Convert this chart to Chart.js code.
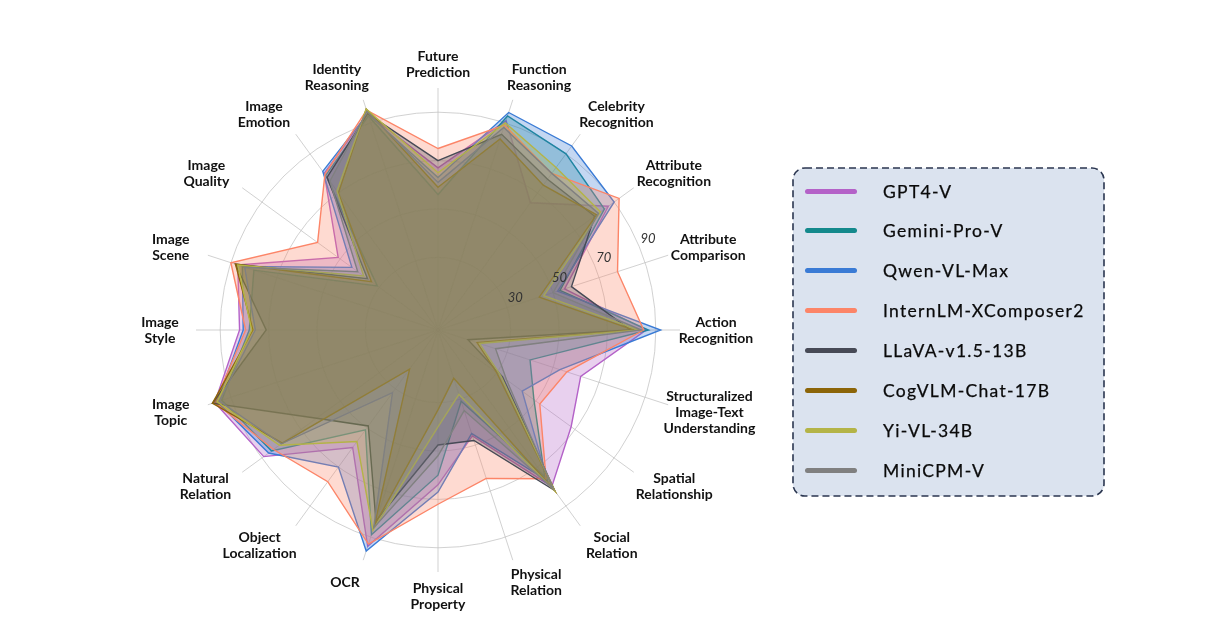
<!DOCTYPE html>
<html>
<head>
<meta charset="utf-8">
<script src="https://cdn.jsdelivr.net/npm/chart.js@4.4.1/dist/chart.umd.min.js"></script>
<style>
html,body{margin:0;padding:0;background:#fff;}
#wrap{position:relative;width:1222px;height:630px;overflow:hidden;}
#c{position:absolute;left:0;top:0;}
#legend{position:absolute;left:792px;top:167px;width:313px;height:330px;font-family:'Lato',sans-serif;}
#legend svg{position:absolute;left:0;top:0;}
.item{position:absolute;left:13px;height:20px;display:flex;align-items:center;}
.sw{width:52px;height:5px;border-radius:3px;}
.lab{margin-left:26px;font-size:17.5px;color:#0a0a0a;letter-spacing:1.3px;white-space:nowrap;-webkit-text-stroke:0.25px #0a0a0a;}
</style>
</head>
<body>
<div id="wrap">
<canvas id="c" width="1222" height="630"></canvas>
<div id="legend">
<svg width="313" height="330"><rect x="1" y="1" width="311" height="328" rx="12" ry="12" fill="#dbe3ef" stroke="#2b3650" stroke-width="1.6" stroke-dasharray="7 4"/></svg>
</div>
</div>
<script>
// ---- data ----
const categories = ['Future Prediction','Function Reasoning','Celebrity Recognition','Attribute Recognition',
  'Attribute Comparison','Action Recognition','Structuralized Image-Text Understanding','Spatial Relationship',
  'Social Relation','Physical Relation','Physical Property','OCR','Object Localization','Natural Relation',
  'Image Topic','Image Style','Image Scene','Image Quality','Image Emotion','Identity Reasoning'];
const labelLines = [['Future','Prediction'],['Function','Reasoning'],['Celebrity','Recognition'],['Attribute','Recognition'],
  ['Attribute','Comparison'],['Action','Recognition'],['Structuralized','Image-Text','Understanding'],['Spatial','Relationship'],
  ['Social','Relation'],['Physical','Relation'],['Physical','Property'],['OCR'],['Object','Localization'],['Natural','Relation'],
  ['Image','Topic'],['Image','Style'],['Image','Scene'],['Image','Quality'],['Image','Emotion'],['Identity','Reasoning']];
const seriesNames = ['GPT4-V','Gemini-Pro-V','Qwen-VL-Max','InternLM-XComposer2','LLaVA-v1.5-13B','CogVLM-Chat-17B','Yi-VL-34B','MiniCPM-V'];
const gpt4v     = [67, 91, 65, 87, 55, 86, 62, 68, 80, 46, 64, 94, 60, 89, 97, 82, 87, 51, 80, 94];
const geminiPro = [56, 93, 90, 85, 53, 87, 40, 49, 75, 31, 60, 89, 51, 85, 94, 78, 80, 31, 79, 93];
const qwenVLMax = [63, 94.5, 94, 90, 52, 92, 53, 43, 77, 45, 67, 96, 70, 86.5, 96, 80.5, 85, 44, 81, 94];
const internLM  = [75, 89, 80, 92.5, 78, 85, 56, 52, 76, 64.5, 72, 93, 77.5, 84, 97, 79.5, 90, 61.5, 79.5, 95.5];
const llava     = [70, 85, 77, 80, 58, 79.5, 13, 33, 82, 48, 47.5, 83, 49, 62, 98, 71, 88, 36, 78, 94];
const cogVLM    = [59, 83, 74, 81, 44, 81, 17, 30, 82, 21, 33, 85, 20, 79.5, 98, 76.5, 88, 34, 70, 96];
const yiVL      = [65, 90, 83, 83, 46, 83, 18, 32, 82, 28, 40, 87, 57, 81, 96, 77, 87, 38, 71, 96];
const miniCPM   = [61, 88, 80, 82, 50, 84, 25, 35, 81, 35, 52, 86, 32, 80, 95, 75.5, 84, 41, 76, 95];
const seriesData = [gpt4v, geminiPro, qwenVLMax, internLM, llava, cogVLM, yiVL, miniCPM];
const seriesColors = ['#b462c8','#14898c','#3a7bd5','#fc8568','#474a56','#8c6508','#b4b447','#808080'];
const tickValues = [30, 50, 70, 90];
const axisMin = 0, axisMax = 100;

function rgba(hex, a){
  const n = parseInt(hex.slice(1),16);
  return `rgba(${(n>>16)&255},${(n>>8)&255},${n&255},${a})`;
}

const LABEL_FONT = 'bold 14px Lato, sans-serif';
const LH = 16;

const labelPlugin = {
  id: 'customLabels',
  afterDraw(chart){
    const s = chart.scales.r;
    const ctx = chart.ctx;
    ctx.save();
    ctx.font = LABEL_FONT;
    ctx.fillStyle = '#111';
    ctx.textAlign = 'center';
    ctx.textBaseline = 'middle';
    const R = s.getDistanceFromCenterForValue(s.max);
    const Rx = R + 36, Ry = R + 24;
    labelLines.forEach((lines, i) => {
      const w = Math.max(...lines.map(t => ctx.measureText(t).width));
      const a = s.getIndexAngle(i);
      const sn = Math.sin(a), cs = Math.cos(a);
      const sgn = Math.abs(sn) < 1e-6 ? 0 : Math.sign(sn);
      const x = s.xCenter + sn * Rx + sgn * 0.5 * (w / 2) * Math.abs(cs);
      const y = s.yCenter - cs * Ry;
      lines.forEach((t, k) => {
        ctx.fillText(t, x, y + (k - (lines.length - 1) / 2) * LH);
      });
    });
    ctx.font = 'italic 13px Lato, sans-serif';
    ctx.fillStyle = '#333';
    const th = 66 * Math.PI / 180;
    tickValues.forEach(v => {
      const d = s.getDistanceFromCenterForValue(v) + 12;
      ctx.fillText(String(v), s.xCenter + d * Math.sin(th), s.yCenter - d * Math.cos(th) + 2);
    });
    ctx.restore();
  }
};

const chart = new Chart(document.getElementById('c'), {
  type: 'radar',
  data: {
    labels: categories,
    datasets: seriesNames.map((name, i) => ({
      label: name,
      data: seriesData[i],
      borderColor: seriesColors[i],
      backgroundColor: rgba(seriesColors[i], 0.3),
      borderWidth: 1.4,
      pointRadius: 0,
      pointHoverRadius: 0,
      fill: true,
      tension: 0,
      order: seriesNames.length - i
    }))
  },
  options: {
    responsive: false,
    animation: false,
    layout: { padding: { left: 196, top: 88, right: 542, bottom: 58 } },
    plugins: { legend: { display: false }, tooltip: { enabled: false } },
    scales: {
      r: {
        min: axisMin, max: axisMax, startAngle: 0, z: 1,
        afterBuildTicks: sc => { sc.ticks = [axisMin, ...tickValues].map(v => ({ value: v })); },
        ticks: { display: false },
        grid: { circular: true, color: 'rgba(190,190,190,0.7)', lineWidth: 1 },
        angleLines: { display: true, color: 'rgba(190,190,190,0.7)', lineWidth: 1 },
        pointLabels: { display: false }
      }
    }
  },
  plugins: [labelPlugin]
});

// HTML legend built from the chart's datasets
const legend = document.getElementById('legend');
chart.data.datasets.forEach((ds, i) => {
  const it = document.createElement('div');
  it.className = 'item';
  it.style.top = (14 + i * 39.9) + 'px';
  const sw = document.createElement('div');
  sw.className = 'sw';
  sw.style.background = ds.borderColor;
  const lb = document.createElement('span');
  lb.className = 'lab';
  lb.textContent = ds.label;
  it.appendChild(sw); it.appendChild(lb);
  legend.appendChild(it);
});
</script>
</body>
</html>
